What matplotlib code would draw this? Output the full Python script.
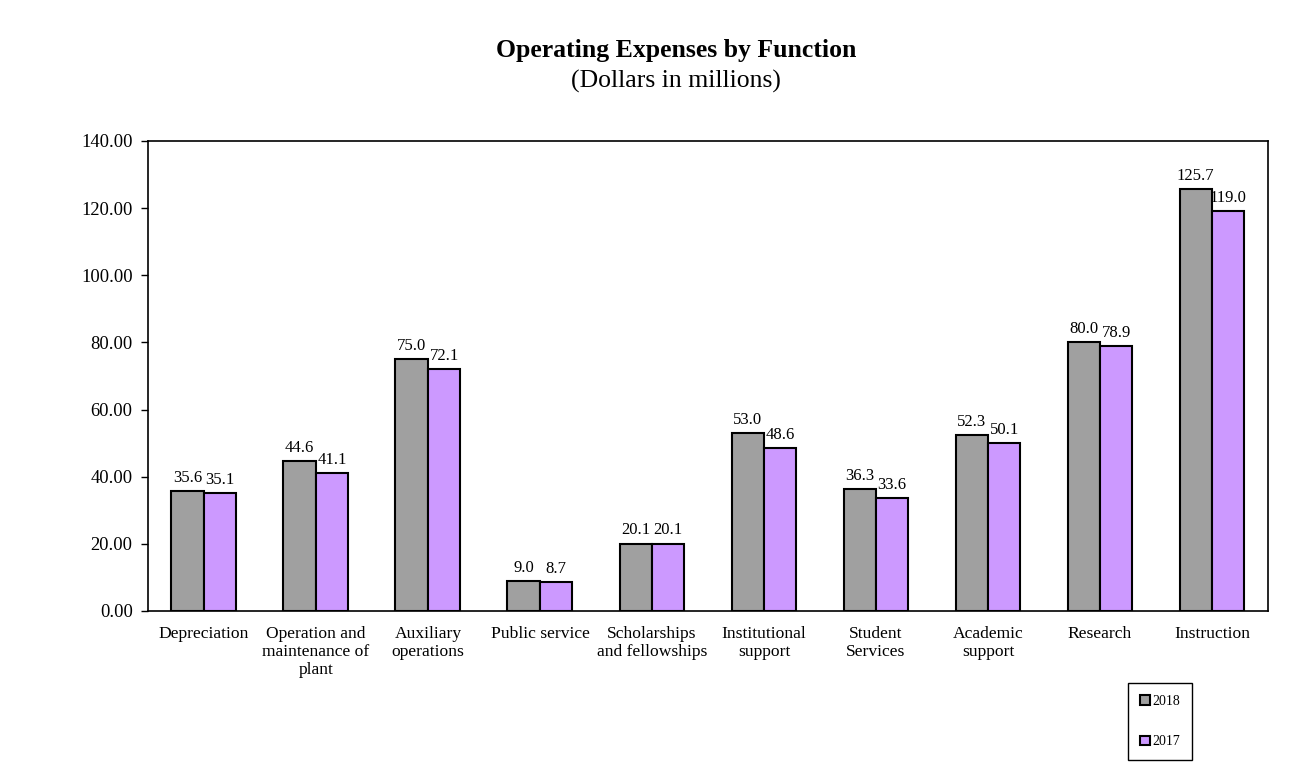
import numpy as np
import matplotlib.pyplot as plt

plt.rcParams['font.family'] = ['Liberation Serif', 'DejaVu Serif']

categories = ['Depreciation', 'Operation and\nmaintenance of\nplant', 'Auxiliary\noperations',
              'Public service', 'Scholarships\nand fellowships', 'Institutional\nsupport',
              'Student\nServices', 'Academic\nsupport', 'Research', 'Instruction']
values_2018 = [35.6, 44.6, 75.0, 9.0, 20.1, 53.0, 36.3, 52.3, 80.0, 125.7]
values_2017 = [35.1, 41.1, 72.1, 8.7, 20.1, 48.6, 33.6, 50.1, 78.9, 119.0]

fig = plt.figure(figsize=(13.06, 7.67), dpi=100)
ax = fig.add_axes([0.1133, 0.2034, 0.8576, 0.6128])

x = np.arange(len(categories))
w = 0.29
b1 = ax.bar(x - w / 2, values_2018, w, color='#A0A0A0', edgecolor='black', linewidth=1.5, label='2018')
b2 = ax.bar(x + w / 2, values_2017, w, color='#CC99FF', edgecolor='black', linewidth=1.5, label='2017')

# value labels above every bar
for bars in (b1, b2):
    for r in bars:
        ax.text(r.get_x() + r.get_width() / 2, r.get_height() + 1.5, '%.1f' % r.get_height(),
                ha='center', va='bottom', fontsize=12)

ax.set_xlim(-0.5, len(categories) - 0.5)
ax.set_ylim(0, 140)
ax.set_yticks(np.arange(0, 141, 20))
ax.set_yticklabels(['%.2f' % v for v in np.arange(0, 141, 20)], fontsize=13.3)
ax.set_xticks(x)
ax.set_xticklabels(categories, fontsize=12.6, linespacing=1.17, va='top')
ax.tick_params(axis='x', length=0, pad=11)
ax.tick_params(axis='y', direction='out', length=5, width=1, pad=6)
for s in ax.spines.values():
    s.set_linewidth(1.2)

fig.text(0.5176, 0.926, 'Operating Expenses by Function', ha='center', fontsize=18.5, fontweight='bold')
fig.text(0.5176, 0.886, '(Dollars in millions)', ha='center', fontsize=18.5)

leg = fig.legend(loc='lower left', bbox_to_anchor=(0.8637, 0.009), fontsize=10,
                 handlelength=0.7, handleheight=0.7, handletextpad=0.2, labelspacing=2.0,
                 fancybox=False, edgecolor='black', framealpha=1, borderpad=0.85,
                 borderaxespad=0)
leg.get_frame().set_linewidth(1)

fig.savefig('out.png', dpi=100)
